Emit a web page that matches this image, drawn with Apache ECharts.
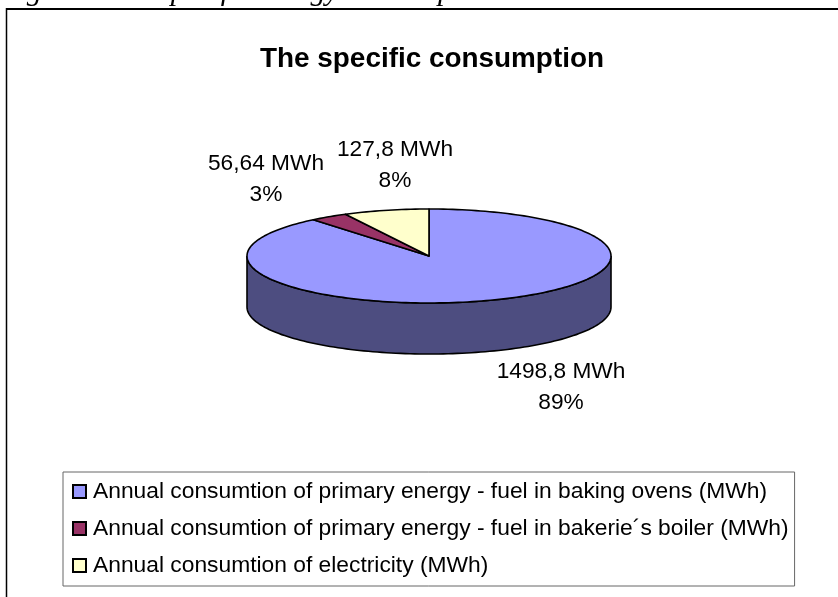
<!DOCTYPE html>
<html><head><meta charset="utf-8">
<style>html,body{margin:0;padding:0;background:#fff}#c{width:838px;height:597px}</style>
<script src="https://cdn.jsdelivr.net/npm/echarts@6/dist/echarts.min.js"></script>
</head><body><div id="c"></div>
<script>
const categories = [
  "Annual consumtion of primary energy - fuel in baking ovens (MWh)",
  "Annual consumtion of primary energy - fuel in bakerie´s boiler (MWh)",
  "Annual consumtion of electricity (MWh)"
];
const values = [1498.8, 56.64, 127.8];
const valueLabels = ["1498,8 MWh", "56,64 MWh", "127,8 MWh"];
const percentLabels = ["89%", "3%", "8%"];
const topColors = ["#9999ff", "#993366", "#ffffcc"];
const sideColors = ["#4d4d80", "#4d1a33", "#808066"];

const cx = 429, cy = 256, rx = 182, ry = 47, depth = 51;
const labelCenters = [[561, 387], [266, 179], [395, 165]];
const total = values.reduce((a, b) => a + b, 0);
const pt = (deg, dy) => {
  const r = deg * Math.PI / 180;
  return [cx + rx * Math.sin(r), cy - ry * Math.cos(r) + (dy || 0)];
};
function arc(a, b, dy) {
  const out = [], n = Math.max(2, Math.ceil(Math.abs(b - a) / 1.5));
  for (let i = 0; i <= n; i++) out.push(pt(a + (b - a) * i / n, dy));
  return out;
}
function renderSlice(idx) {
  return function () {
    const start = values.slice(0, idx).reduce((a, b) => a + b, 0) / total * 360;
    const end = start + values[idx] / total * 360;
    const children = [];
    const wa = Math.max(start, 90), wb = Math.min(end, 270);
    if (wb > wa) {
      children.push({
        type: 'polygon',
        shape: { points: arc(wa, wb, 0).concat(arc(wb, wa, depth)) },
        style: { fill: sideColors[idx], stroke: '#000', lineWidth: 1.6 }
      });
    }
    children.push({
      type: 'polygon',
      shape: { points: [[cx, cy]].concat(arc(start, end, 0)) },
      style: { fill: topColors[idx], stroke: '#000', lineWidth: 1.6, lineJoin: 'round' }
    });
    children.push({
      type: 'text',
      style: {
        text: valueLabels[idx] + '\n' + percentLabels[idx],
        x: labelCenters[idx][0], y: labelCenters[idx][1],
        align: 'center', verticalAlign: 'middle',
        font: '22.7px "Liberation Sans"', lineHeight: 31, fill: '#000'
      }
    });
    return { type: 'group', children };
  };
}
const chart = echarts.init(document.getElementById('c'), null, { renderer: 'canvas' });
chart.setOption({
  animation: false,
  backgroundColor: '#fff',
  title: {
    text: 'The specific consumption', left: 427, top: 40, textAlign: 'center',
    textStyle: { fontFamily: 'Liberation Sans', fontWeight: 'bold', fontSize: 27.9, color: '#000' }
  },
  legend: {
    orient: 'vertical', left: 63, top: 472, padding: [8, 6, 9, 9],
    itemGap: 14, itemWidth: 13, itemHeight: 13, icon: 'rect',
    borderColor: '#666', borderWidth: 1, backgroundColor: '#fff',
    data: categories,
    textStyle: { fontFamily: 'Liberation Sans', fontSize: 22.8, color: '#000', padding: [0, 0, 0, 2] }
  },
  graphic: [
    { type: 'line', z: 4, shape: { x1: 6.5, y1: 9, x2: 838, y2: 9 }, style: { stroke: '#000', lineWidth: 2 } },
    { type: 'line', z: 4, shape: { x1: 6.5, y1: 8, x2: 6.5, y2: 597 }, style: { stroke: '#000', lineWidth: 1.5 } },
    { type: 'text', z: 5, left: 0, top: -23, style: { text: 'Figure 4.11: Specific energy consumption', font: 'italic 30px "Liberation Serif"', fill: '#000' } }
  ],
  series: categories.map((name, i) => ({
    type: 'custom', name, coordinateSystem: 'none', data: [values[i]],
    renderItem: renderSlice(i), itemStyle: { color: topColors[i], borderColor: '#000', borderWidth: 1.5 }, silent: true
  }))
});
</script></body></html>
